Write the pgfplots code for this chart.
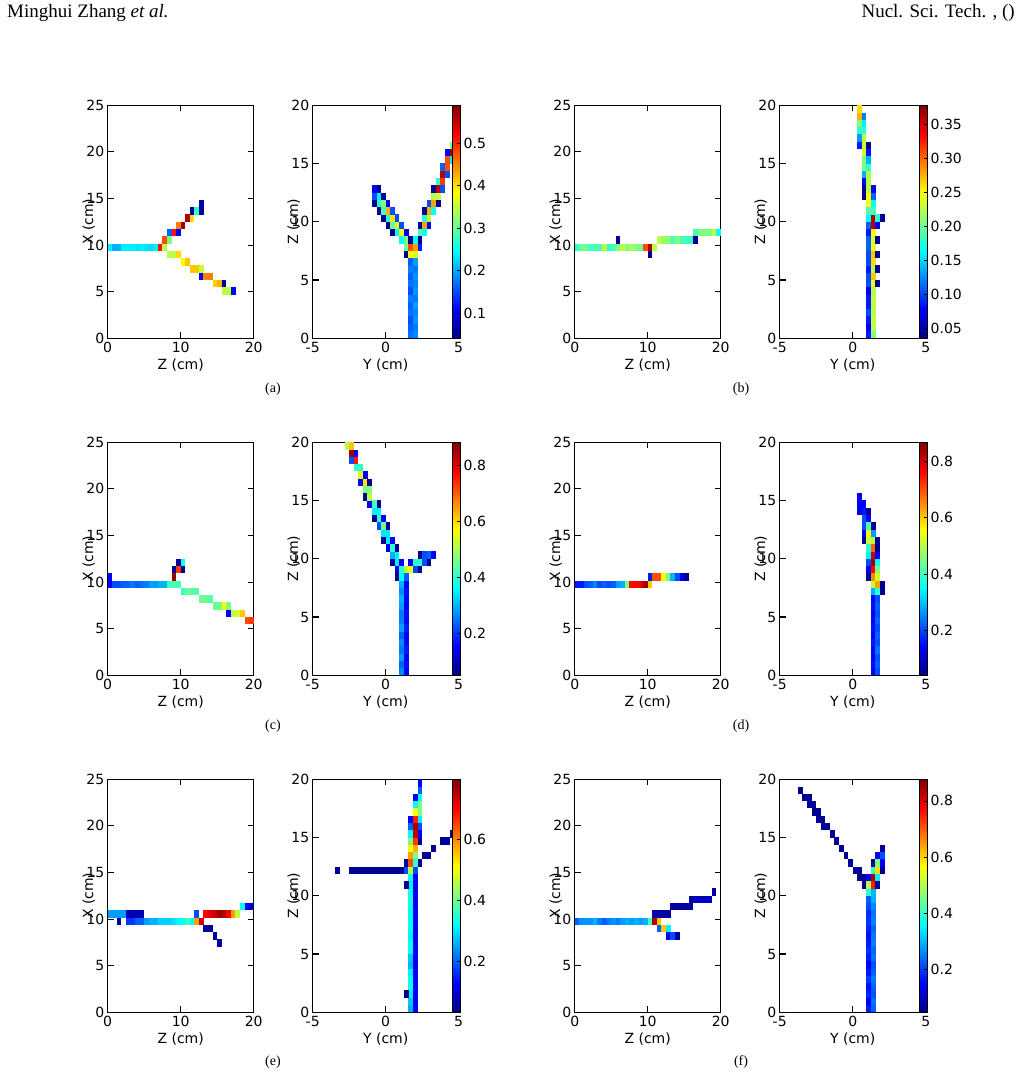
\documentclass[border=0pt]{standalone}
\usepackage{fontspec}
\setmainfont{Liberation Serif}
\newfontfamily\dv{DejaVu Sans}
\usepackage{pgfplots}
\usepackage{pgfplotstable}
\pgfplotsset{compat=1.18}

\pgfdeclareplotmark{cell}{\pgfpathrectangle{\pgfpoint{-2.33pt}{-3.69pt}}{\pgfpoint{4.66pt}{7.38pt}}\pgfusepath{fill}}
\newcommand\tl{\dv\fontsize{14}{16}\selectfont}

% ---------------- data: bin index (Z or Y), bin index (X or Z), normalised colour level
\pgfplotstableread[row sep=\\]{i j v\\
0 12 0.36\\1 12 0.3\\2 12 0.3\\3 12 0.36\\4 12 0.36\\5 12 0.36\\6 12 0.35\\7 12 0.36\\8 12 0.35\\9 12 0.34\\10 12 0.36\\11 12 0.86\\12 12 0.56\\
12 13 0.8\\13 13 0.5\\13 14 0.22\\14 14 0.86\\15 14 0.12\\15 15 0.75\\16 15 0.97\\17 16 0.95\\18 16 0.66\\
18 17 0.02\\19 17 0.42\\20 17 0.02\\20 18 0.05\\
13 11 0.56\\14 11 0.56\\15 11 0.66\\16 10 0.62\\17 10 0.68\\18 9 0.68\\19 9 0.68\\20 9 0.57\\
20 8 0.12\\21 8 0.75\\22 8 0.75\\23 7 0.67\\24 7 0.7\\25 7 0.03\\25 6 0.56\\26 6 0.56\\27 6 0.12\\
}\tAL
\pgfplotstableread[row sep=\\]{i j v\\
21 0 0.24\\21 1 0.22\\21 2 0.2\\21 3 0.24\\21 4 0.22\\21 5 0.25\\21 6 0.2\\21 7 0.24\\21 8 0.22\\21 9 0.25\\21 10 0.22\\
22 0 0.26\\22 1 0.24\\22 2 0.27\\22 3 0.25\\22 4 0.28\\22 5 0.24\\22 6 0.27\\22 7 0.25\\22 8 0.27\\22 9 0.24\\22 10 0.28\\
20 11 0.02\\21 11 0.62\\22 11 0.6\\
20 12 0.48\\21 12 0.8\\22 12 0.72\\23 12 0.15\\
19 13 0.38\\20 13 0.5\\21 13 0.02\\22 13 0.38\\23 13 0.02\\
17 14 0.02\\18 14 0.38\\19 14 0.62\\20 14 0.12\\23 14 0.45\\24 14 0.38\\
16 15 0.02\\17 15 0.48\\18 15 0.6\\19 15 0.2\\23 15 0.02\\24 15 0.72\\25 15 0.12\\
15 16 0.02\\16 16 0.42\\17 16 0.65\\18 16 0.2\\24 16 0.42\\25 16 0.56\\
14 17 0.02\\15 17 0.45\\16 17 0.7\\17 17 0.2\\24 17 0.02\\25 17 0.7\\26 17 0.38\\
13 18 0.02\\14 18 0.42\\15 18 0.5\\16 18 0.12\\25 18 0.2\\26 18 0.72\\27 18 0.02\\
13 19 0.2\\14 19 0.36\\15 19 0.02\\26 19 0.55\\27 19 0.57\\
13 20 0.12\\14 20 0.02\\26 20 0.02\\27 20 0.95\\28 20 0.2\\
27 21 0.42\\28 21 0.82\\28 22 0.95\\29 22 0.2\\28 23 0.22\\29 23 0.8\\
29 24 0.8\\30 24 0.36\\29 25 0.12\\30 25 0.97\\30 26 0.5\\
}\tAR
\pgfplotstableread[row sep=\\]{i j v\\
0 12 0.42\\1 12 0.48\\2 12 0.48\\3 12 0.44\\4 12 0.45\\5 12 0.45\\6 12 0.56\\7 12 0.42\\8 12 0.45\\9 12 0.5\\10 12 0.56\\11 12 0.5\\12 12 0.54\\13 12 0.5\\14 12 0.48\\15 12 0.8\\16 12 0.95\\17 12 0.56\\
9 13 0.02\\18 13 0.56\\19 13 0.52\\20 13 0.52\\21 13 0.45\\22 13 0.5\\23 13 0.44\\24 13 0.44\\25 13 0.44\\26 13 0.02\\
16 11 0.02\\
26 14 0.45\\27 14 0.5\\28 14 0.5\\29 14 0.5\\30 14 0.56\\31 14 0.38\\
}\tBL
\pgfplotstableread[row sep=\\]{i j v\\
19 0 0.15\\19 1 0.12\\19 2 0.15\\19 3 0.2\\19 4 0.15\\19 5 0.15\\19 6 0.12\\19 7 0.2\\19 8 0.2\\19 9 0.15\\19 10 0.2\\19 11 0.2\\19 12 0.22\\19 13 0.22\\19 14 0.15\\
20 0 0.5\\20 1 0.56\\20 2 0.57\\20 3 0.55\\20 4 0.56\\20 5 0.57\\20 6 0.55\\20 7 0.6\\20 8 0.68\\20 9 0.56\\20 10 0.66\\20 11 0.68\\20 12 0.6\\20 13 0.6\\20 14 0.62\\
21 7 0.02\\21 9 0.02\\21 11 0.02\\21 13 0.02\\
19 15 0.22\\20 15 0.95\\21 15 0.12\\
19 16 0.38\\20 16 0.95\\21 16 0.42\\22 16 0.02\\
19 17 0.45\\20 17 0.45\\19 18 0.62\\20 18 0.38\\
18 19 0.02\\19 19 0.62\\20 19 0.22\\18 20 0.02\\19 20 0.56\\20 20 0.12\\
18 21 0.12\\19 21 0.55\\18 22 0.3\\19 22 0.55\\18 23 0.5\\19 23 0.42\\
18 24 0.5\\19 24 0.3\\18 25 0.58\\19 25 0.15\\17 26 0.15\\18 26 0.58\\19 26 0.02\\
17 27 0.28\\18 27 0.56\\17 28 0.42\\18 28 0.42\\17 29 0.5\\18 29 0.36\\17 30 0.7\\18 30 0.25\\17 31 0.66\\
}\tBR
\pgfplotstableread[row sep=\\]{i j v\\
0 12 0.12\\1 12 0.2\\2 12 0.2\\3 12 0.22\\4 12 0.22\\5 12 0.24\\6 12 0.22\\7 12 0.24\\8 12 0.25\\9 12 0.28\\10 12 0.28\\11 12 0.3\\12 12 0.3\\13 12 0.44\\14 12 0.45\\15 12 0.44\\
0 13 0.12\\14 13 0.97\\14 14 0.02\\15 14 0.82\\16 14 0.02\\15 15 0.02\\16 15 0.4\\
16 11 0.42\\17 11 0.48\\18 11 0.46\\19 11 0.46\\20 10 0.48\\21 10 0.48\\22 10 0.46\\
23 9 0.48\\24 9 0.48\\25 9 0.63\\26 9 0.5\\26 8 0.12\\27 8 0.55\\28 8 0.58\\29 8 0.68\\30 7 0.8\\31 7 0.82\\
}\tCL
\pgfplotstableread[row sep=\\]{i j v\\
19 0 0.26\\19 1 0.22\\19 2 0.28\\19 3 0.24\\19 4 0.26\\19 5 0.22\\19 6 0.28\\19 7 0.25\\19 8 0.24\\19 9 0.28\\19 10 0.3\\19 11 0.26\\19 12 0.3\\
20 0 0.12\\20 1 0.14\\20 2 0.12\\20 3 0.15\\20 4 0.13\\20 5 0.12\\20 6 0.15\\20 7 0.13\\20 8 0.14\\20 9 0.12\\20 10 0.13\\20 11 0.14\\20 12 0.12\\
18 13 0.02\\19 13 0.38\\20 13 0.22\\
18 14 0.12\\19 14 0.42\\20 14 0.55\\21 14 0.62\\22 14 0.2\\23 14 0.02\\
17 15 0.02\\18 15 0.36\\19 15 0.12\\21 15 0.12\\22 15 0.42\\23 15 0.42\\24 15 0.2\\25 15 0.02\\
17 16 0.3\\18 16 0.36\\23 16 0.02\\24 16 0.2\\25 16 0.22\\26 16 0.12\\
16 17 0.12\\17 17 0.42\\18 17 0.02\\15 18 0.02\\16 18 0.36\\17 18 0.12\\
15 19 0.35\\16 19 0.35\\14 20 0.2\\15 20 0.48\\16 20 0.02\\13 21 0.02\\14 21 0.42\\15 21 0.12\\
13 22 0.36\\14 22 0.36\\12 23 0.12\\13 23 0.45\\14 23 0.02\\11 24 0.02\\12 24 0.56\\
11 25 0.5\\12 25 0.5\\10 26 0.12\\11 26 0.65\\12 26 0.02\\10 27 0.6\\11 27 0.12\\
9 28 0.42\\10 28 0.42\\8 29 0.2\\9 29 0.85\\8 30 0.97\\9 30 0.12\\7 31 0.56\\8 31 0.68\\
}\tCR
\pgfplotstableread[row sep=\\]{i j v\\
0 12 0.15\\1 12 0.15\\2 12 0.2\\3 12 0.22\\4 12 0.25\\5 12 0.2\\6 12 0.22\\7 12 0.2\\8 12 0.22\\9 12 0.28\\10 12 0.3\\11 12 0.5\\12 12 0.87\\13 12 0.87\\14 12 0.9\\15 12 0.97\\16 12 0.68\\
16 13 0.15\\17 13 0.8\\18 13 0.8\\19 13 0.62\\20 13 0.5\\21 13 0.3\\22 13 0.2\\23 13 0.12\\24 13 0.03\\
}\tDL
\pgfplotstableread[row sep=\\]{i j v\\
20 0 0.12\\20 1 0.14\\20 2 0.12\\20 3 0.13\\20 4 0.15\\20 5 0.12\\20 6 0.14\\20 7 0.13\\20 8 0.12\\20 9 0.14\\20 10 0.13\\
21 0 0.2\\21 1 0.22\\21 2 0.2\\21 3 0.24\\21 4 0.2\\21 5 0.22\\21 6 0.2\\21 7 0.22\\21 8 0.2\\21 9 0.22\\21 10 0.2\\
20 11 0.3\\21 11 0.42\\22 11 0.02\\20 12 0.57\\21 12 0.72\\22 12 0.02\\
19 13 0.02\\20 13 0.74\\21 13 0.58\\19 14 0.12\\20 14 0.87\\21 14 0.5\\
19 15 0.2\\20 15 0.97\\21 15 0.38\\19 16 0.36\\20 16 0.93\\21 16 0.12\\
19 17 0.42\\20 17 0.78\\21 17 0.02\\18 18 0.02\\19 18 0.58\\20 18 0.56\\21 18 0.02\\
18 19 0.12\\19 19 0.62\\20 19 0.28\\18 20 0.2\\19 20 0.45\\20 20 0.02\\
18 21 0.2\\19 21 0.12\\17 22 0.12\\18 22 0.15\\19 22 0.02\\17 23 0.12\\18 23 0.12\\17 24 0.12\\
}\tDR
\pgfplotstableread[row sep=\\]{i j v\\
0 13 0.28\\1 13 0.28\\2 13 0.28\\3 13 0.28\\4 13 0.05\\5 13 0.05\\6 13 0.05\\7 13 0.05\\19 13 0.2\\21 13 0.87\\22 13 0.9\\23 13 0.92\\24 13 0.97\\25 13 0.95\\26 13 0.88\\27 13 0.72\\28 13 0.56\\
29 14 0.38\\30 14 0.12\\31 14 0.05\\
2 12 0.03\\4 12 0.18\\5 12 0.18\\6 12 0.22\\7 12 0.22\\8 12 0.28\\9 12 0.3\\10 12 0.3\\11 12 0.33\\12 12 0.33\\13 12 0.33\\14 12 0.35\\15 12 0.37\\16 12 0.38\\17 12 0.44\\18 12 0.37\\19 12 0.72\\20 12 0.93\\
21 11 0.03\\22 11 0.03\\23 10 0.03\\24 9 0.03\\
}\tEL
\pgfplotstableread[row sep=\\]{i j v\\
21 0 0.3\\21 1 0.32\\21 2 0.36\\21 3 0.38\\21 4 0.38\\21 5 0.36\\21 6 0.3\\21 7 0.32\\21 8 0.38\\21 9 0.38\\21 10 0.36\\21 11 0.38\\21 12 0.38\\21 13 0.37\\21 14 0.38\\21 15 0.4\\21 16 0.38\\21 17 0.36\\
22 0 0.12\\22 1 0.1\\22 2 0.12\\22 3 0.13\\22 4 0.11\\22 5 0.12\\22 6 0.1\\22 7 0.12\\22 8 0.13\\22 9 0.11\\22 10 0.12\\22 11 0.1\\22 12 0.12\\22 13 0.13\\22 14 0.11\\22 15 0.12\\22 16 0.12\\22 17 0.1\\
20 2 0.02\\20 17 0.02\\
21 18 0.38\\22 18 0.12\\
5 19 0.02\\8 19 0.02\\9 19 0.02\\10 19 0.02\\11 19 0.02\\12 19 0.02\\13 19 0.02\\14 19 0.02\\15 19 0.02\\16 19 0.02\\17 19 0.02\\18 19 0.02\\19 19 0.02\\20 19 0.2\\21 19 0.56\\22 19 0.2\\
20 20 0.02\\21 20 0.8\\22 20 0.42\\23 20 0.02\\
21 21 0.72\\22 21 0.5\\24 21 0.02\\25 21 0.02\\
21 22 0.62\\22 22 0.7\\26 22 0.02\\
21 23 0.5\\22 23 0.82\\23 23 0.02\\28 23 0.02\\29 23 0.02\\
21 24 0.38\\22 24 0.93\\23 24 0.12\\30 24 0.02\\
21 25 0.22\\22 25 0.97\\23 25 0.2\\21 26 0.12\\22 26 0.85\\23 26 0.36\\
22 27 0.62\\23 27 0.5\\22 28 0.38\\23 28 0.5\\22 29 0.12\\23 29 0.38\\23 30 0.22\\23 31 0.12\\
}\tER
\pgfplotstableread[row sep=\\]{i j v\\
0 12 0.22\\1 12 0.27\\2 12 0.27\\3 12 0.27\\4 12 0.3\\5 12 0.25\\6 12 0.22\\7 12 0.25\\8 12 0.27\\9 12 0.25\\10 12 0.28\\11 12 0.3\\12 12 0.28\\13 12 0.3\\14 12 0.28\\15 12 0.3\\16 12 0.44\\17 12 0.95\\18 12 0.68\\
18 11 0.22\\19 11 0.68\\20 11 0.37\\20 10 0.12\\21 10 0.2\\22 10 0.03\\
17 13 0.05\\18 13 0.03\\19 13 0.03\\20 13 0.03\\
21 14 0.03\\22 14 0.03\\23 14 0.03\\24 14 0.03\\25 14 0.03\\
25 15 0.03\\26 15 0.06\\27 15 0.06\\28 15 0.06\\29 15 0.08\\30 16 0.03\\
}\tFL
\pgfplotstableread[row sep=\\]{i j v\\
19 0 0.15\\19 1 0.12\\19 2 0.16\\19 3 0.14\\19 4 0.18\\19 5 0.15\\19 6 0.12\\19 7 0.15\\19 8 0.17\\19 9 0.15\\19 10 0.14\\19 11 0.16\\19 12 0.18\\19 13 0.17\\19 14 0.2\\19 15 0.22\\
20 0 0.22\\20 1 0.24\\20 2 0.2\\20 3 0.22\\20 4 0.24\\20 5 0.22\\20 6 0.2\\20 7 0.24\\20 8 0.22\\20 9 0.25\\20 10 0.24\\20 11 0.22\\20 12 0.25\\20 13 0.24\\20 14 0.26\\20 15 0.3\\
19 16 0.42\\20 16 0.3\\
18 17 0.02\\19 17 0.56\\20 17 0.85\\21 17 0.02\\
17 18 0.02\\18 18 0.02\\19 18 0.12\\20 18 0.95\\21 18 0.36\\
16 19 0.02\\17 19 0.02\\20 19 0.42\\21 19 0.66\\22 19 0.02\\
15 20 0.02\\20 20 0.02\\21 20 0.5\\22 20 0.12\\
14 21 0.02\\21 21 0.12\\22 21 0.2\\13 22 0.02\\22 22 0.02\\
12 23 0.02\\11 24 0.02\\9 25 0.02\\10 25 0.02\\8 26 0.02\\9 26 0.02\\7 27 0.02\\8 27 0.02\\
6 28 0.02\\7 28 0.02\\5 29 0.02\\6 29 0.02\\4 30 0.02\\
}\tFR

\pgfplotsset{
 base/.style={scale only axis, width=146pt, height=233pt, anchor=south west,
   tick align=inside, major tick length=6pt, colormap/jet,
   axis line style={line width=1.1pt},
   every tick/.style={line width=1.1pt, black},
   tick label style={font=\tl},
   /pgf/number format/assume math mode=true,
   every axis x label/.style={at={(axis description cs:0.5,0)}, anchor=center, yshift=-27pt, font=\tl},
   every axis y label/.style={at={(axis description cs:-0.13,0.5)}, rotate=90, anchor=center, font=\tl}},
 leftp/.style={base, xmin=0, xmax=20, ymin=0, ymax=25, xtick={0,10,20}, ytick={0,5,10,15,20,25},
   xlabel={Z (cm)}, ylabel={X (cm)}},
 rightp/.style={base, xmin=-5, xmax=5, ymin=0, ymax=20, xtick={-5,0,5}, ytick={0,5,10,15,20},
   xlabel={Y (cm)}, ylabel={Z (cm)}, colorbar},
 cbs/.style={at={(parent axis.north east)}, anchor=north east, xshift=-7.1pt,
   width=8pt, height=233pt, scale only axis, tick align=inside, major tick length=3pt,
   ytick pos=right, yticklabel pos=right,
   axis line style={line width=0.6pt}, every tick/.style={line width=0.6pt, black},
   /pgf/number format/assume math mode=true,
   yticklabel style={font=\tl, /pgf/number format/fixed}},
 cellplot/.style={scatter, only marks, mark=cell, point meta=explicit,
   scatter/use mapped color={draw=mapped color, fill=mapped color}},
}
\newcommand\cellsL[1]{\addplot[cellplot] table[x expr={(\thisrow{i}+0.5)*0.625}, y expr={(\thisrow{j}+0.5)*0.78125}, meta expr={\cmin+\thisrow{v}*(\cmax-\cmin)}] {#1};}
\newcommand\cellsR[1]{\addplot[cellplot] table[x expr={-5+(\thisrow{i}+0.5)*0.3125}, y expr={(\thisrow{j}+0.5)*0.625}, meta expr={\cmin+\thisrow{v}*(\cmax-\cmin)}] {#1};}

\begin{document}
\begin{tikzpicture}[x=1pt,y=1pt]
\path[use as bounding box] (0,0) rectangle (1022,1076);
\node[anchor=base west, inner sep=0pt, font=\fontsize{19}{22}\selectfont] at (7,1058) {Minghui Zhang \textit{et al.}};
\node[anchor=base east, inner sep=0pt, font=\fontsize{19}{22}\selectfont] at (1015,1058) {Nucl. Sci. Tech. , ()};
\foreach \cx/\cy/\lab in {273/687/(a), 741/687/(b), 273/350/(c), 741/350/(d), 273/14/(e), 741/14/(f)}
  \node[font=\fontsize{14}{16}\selectfont] at (\cx,\cy) {\lab};

% (a)
\def\cmin{0.041}\def\cmax{0.589}
\begin{axis}[leftp, at={(107.7pt,737.7pt)}, point meta min=\cmin, point meta max=\cmax]
\cellsL{\tAL}
\end{axis}
\begin{axis}[rightp, at={(312.7pt,737.7pt)}, point meta min=\cmin, point meta max=\cmax,
  colorbar style={cbs, ytick={0.1,0.2,0.3,0.4,0.5}, yticklabel style={/pgf/number format/precision=1}}]
\cellsR{\tAR}
\end{axis}
% (b)
\def\cmin{0.035}\def\cmax{0.378}
\begin{axis}[leftp, at={(574.7pt,737.7pt)}, point meta min=\cmin, point meta max=\cmax]
\cellsL{\tBL}
\end{axis}
\begin{axis}[rightp, at={(779.7pt,737.7pt)}, point meta min=\cmin, point meta max=\cmax,
  colorbar style={cbs, ytick={0.05,0.1,0.15,0.2,0.25,0.3,0.35}, yticklabel style={/pgf/number format/precision=2, /pgf/number format/fixed zerofill}}]
\cellsR{\tBR}
\end{axis}
% (c)
\def\cmin{0.05}\def\cmax{0.882}
\begin{axis}[leftp, at={(107.7pt,400.7pt)}, point meta min=\cmin, point meta max=\cmax]
\cellsL{\tCL}
\end{axis}
\begin{axis}[rightp, at={(312.7pt,400.7pt)}, point meta min=\cmin, point meta max=\cmax,
  colorbar style={cbs, ytick={0.2,0.4,0.6,0.8}, yticklabel style={/pgf/number format/precision=1}}]
\cellsR{\tCR}
\end{axis}
% (d)
\def\cmin{0.041}\def\cmax{0.867}
\begin{axis}[leftp, at={(574.7pt,400.7pt)}, point meta min=\cmin, point meta max=\cmax]
\cellsL{\tDL}
\end{axis}
\begin{axis}[rightp, at={(779.7pt,400.7pt)}, point meta min=\cmin, point meta max=\cmax,
  colorbar style={cbs, ytick={0.2,0.4,0.6,0.8}, yticklabel style={/pgf/number format/precision=1}}]
\cellsR{\tDR}
\end{axis}
% (e)
\def\cmin{0.033}\def\cmax{0.797}
\begin{axis}[leftp, at={(107.7pt,63.7pt)}, point meta min=\cmin, point meta max=\cmax]
\cellsL{\tEL}
\end{axis}
\begin{axis}[rightp, at={(312.7pt,63.7pt)}, point meta min=\cmin, point meta max=\cmax,
  colorbar style={cbs, ytick={0.2,0.4,0.6}, yticklabel style={/pgf/number format/precision=1}}]
\cellsR{\tER}
\end{axis}
% (f)
\def\cmin{0.046}\def\cmax{0.877}
\begin{axis}[leftp, at={(574.7pt,63.7pt)}, point meta min=\cmin, point meta max=\cmax]
\cellsL{\tFL}
\end{axis}
\begin{axis}[rightp, at={(779.7pt,63.7pt)}, point meta min=\cmin, point meta max=\cmax,
  colorbar style={cbs, ytick={0.2,0.4,0.6,0.8}, yticklabel style={/pgf/number format/precision=1}}]
\cellsR{\tFR}
\end{axis}
\end{tikzpicture}
\end{document}
